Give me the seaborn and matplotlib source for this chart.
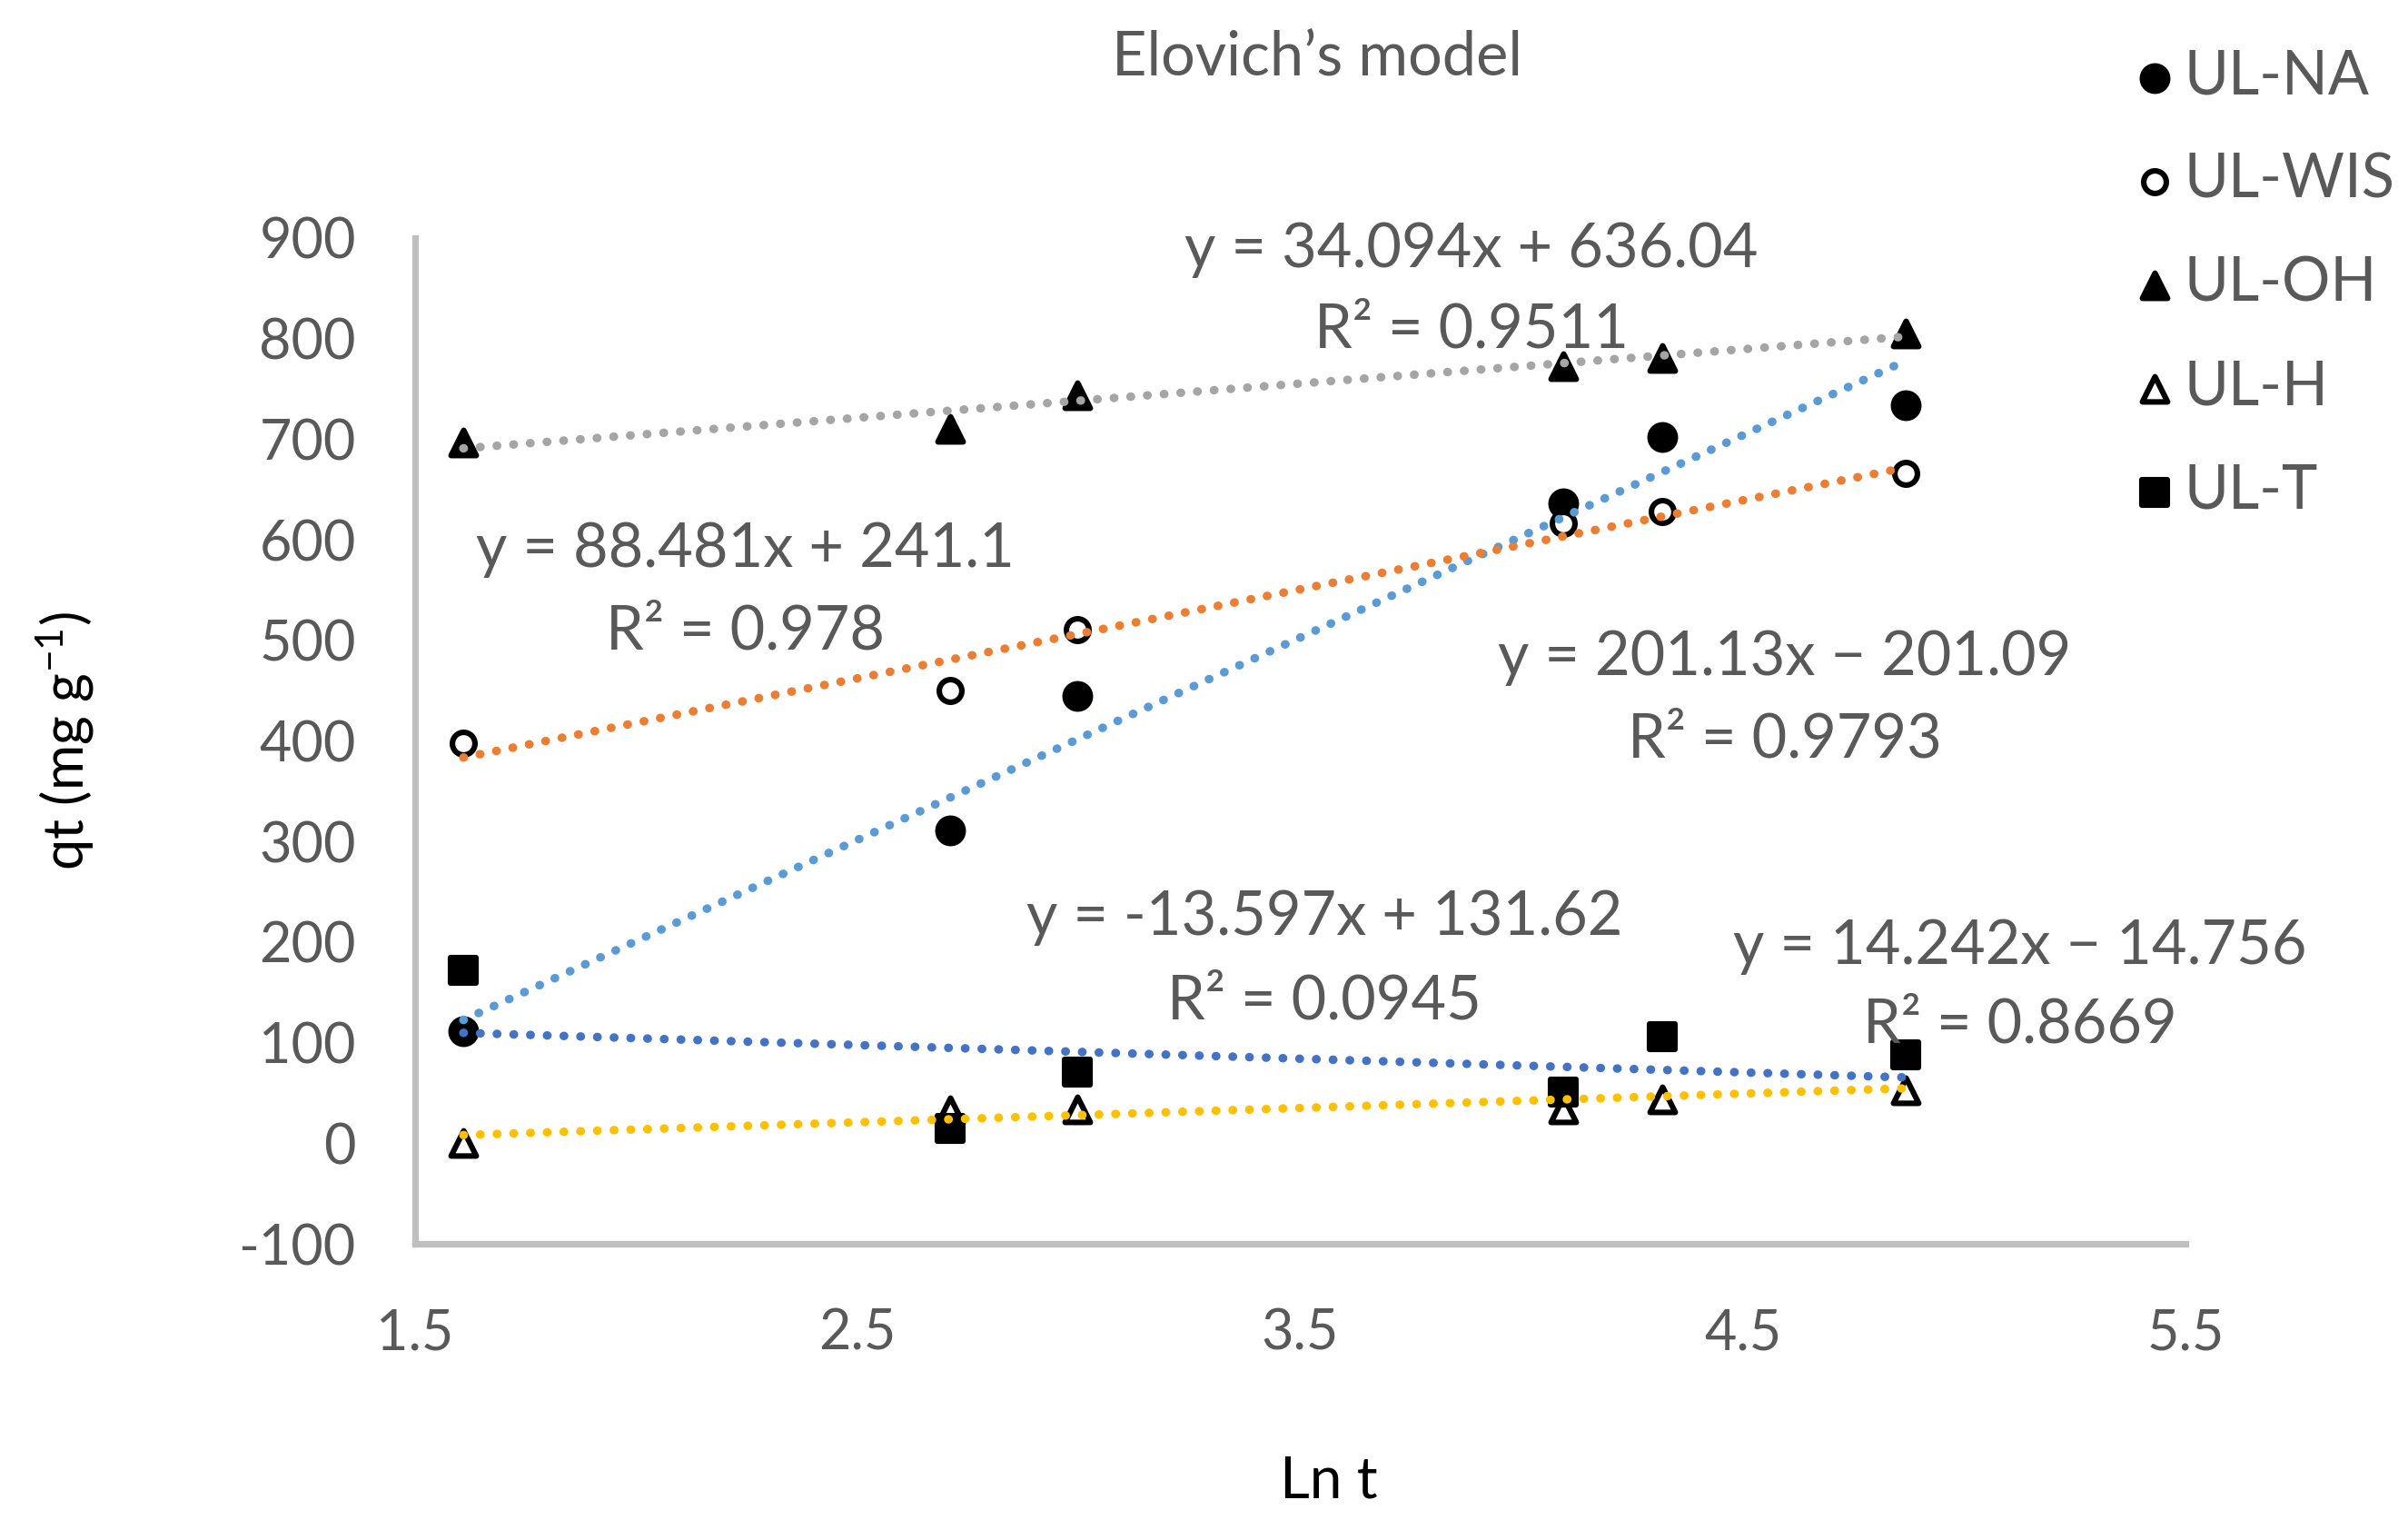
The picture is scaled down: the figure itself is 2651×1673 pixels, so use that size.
import numpy as np
import pandas as pd
import matplotlib.pyplot as plt
import seaborn as sns

# data
ln_t = [1.609, 2.708, 2.996, 4.094, 4.317, 4.868]
ul_na = [111, 311, 445, 636, 702, 734]
ul_wis = [398, 450, 511, 616, 628, 666]
ul_oh = [697, 710, 744, 773, 781, 805]
ul_h = [0, 33, 34, 34, 44, 53]
ul_t = [172, 15, 71, 51, 106, 88]

series_names = ['UL-NA', 'UL-WIS', 'UL-OH', 'UL-H', 'UL-T']
series_values = [ul_na, ul_wis, ul_oh, ul_h, ul_t]

# trendline coefficients as printed on the chart
slopes = [201.13, 88.481, 34.094, 14.242, -13.597]
intercepts = [-201.09, 241.1, 636.04, -14.756, 131.62]
r2 = ['0.9793', '0.978', '0.9511', '0.8669', '0.0945']
trend_colors = ['#5B9BD5', '#ED7D31', '#A5A5A5', '#FFC000', '#4472C4']

eq_labels = ['y = 201.13x \u2212 201.09', 'y = 88.481x + 241.1', 'y = 34.094x + 636.04',
             'y = 14.242x \u2212 14.756', 'y = -13.597x + 131.62']
eq_pos = [(4.595, 483, 401), (2.246, 590, 508), (3.887, 888, 808),
          (5.125, 195, 117), (3.554, 224, 141)]

marker_styles = {
    'UL-NA': dict(marker='o', facecolor='black', s=100),
    'UL-WIS': dict(marker='o', facecolor='white', s=80),
    'UL-OH': dict(marker='^', facecolor='black', s=100),
    'UL-H': dict(marker='^', facecolor='white', s=100),
    'UL-T': dict(marker='s', facecolor='black', s=95),
}

sns.set_theme(style='white')
plt.rcParams['font.family'] = ['Lato', 'DejaVu Sans']
plt.rcParams['mathtext.fontset'] = 'custom'
plt.rcParams['mathtext.rm'] = 'Lato'
plt.rcParams['mathtext.default'] = 'regular'
plt.rcParams['axes.unicode_minus'] = False

grey = '#595959'
fig = plt.figure(figsize=(13.255, 8.365), dpi=200)
ax = fig.add_axes([0.1724, 0.1817, 0.7352, 0.6617])

df = pd.DataFrame({'ln_t': ln_t * len(series_names),
                   'qt': sum(series_values, []),
                   'series': np.repeat(series_names, len(ln_t))})

for name in series_names:
    st = marker_styles[name]
    sub = df[df['series'] == name]
    sns.scatterplot(data=sub, x='ln_t', y='qt', marker=st['marker'], s=st['s'],
                    color=st['facecolor'], edgecolor='black', linewidth=2.2,
                    label=name, ax=ax, zorder=3)

x_line = [min(ln_t), max(ln_t)]
for m, b, c in zip(slopes, intercepts, trend_colors):
    y_line = [m * x + b for x in x_line]
    sns.lineplot(x=x_line, y=y_line, color=c, lw=3.4, ax=ax, zorder=4,
                 linestyle=(0, (0.05, 1.9)), dash_capstyle='round')

for lab, (x, y1, y2), rr in zip(eq_labels, eq_pos, r2):
    ax.text(x, y1, lab, ha='center', va='center', fontsize=24, color=grey, zorder=5)
    ax.text(x, y2, 'R\u00b2 = ' + rr, ha='center', va='center', fontsize=24, color=grey, zorder=5)

ax.set_xlim(1.5, 5.5)
ax.set_ylim(-100, 900)
ax.set_xticks([1.5, 2.5, 3.5, 4.5, 5.5])
ax.set_yticks(range(-100, 901, 100))
ax.set_xticklabels(['1.5', '2.5', '3.5', '4.5', '5.5'])

for side in ['top', 'right']:
    ax.spines[side].set_visible(False)
for side in ['left', 'bottom']:
    ax.spines[side].set_color('#BFBFBF')
    ax.spines[side].set_linewidth(2.6)
ax.tick_params(axis='both', direction='inout', length=13, width=2.6, color='#BFBFBF',
               labelsize=22, labelcolor=grey)
ax.tick_params(axis='x', pad=19)
ax.tick_params(axis='y', pad=17)
ax.set_xlabel('Ln t', fontsize=23, color='black')
ax.set_ylabel('qt (mg g$^{-1}$)', fontsize=22, color='black')
ax.xaxis.set_label_coords(0.516, -0.21)
ax.yaxis.set_label_coords(-0.18, 0.5)

fig.text(0.547, 0.962, 'Elovich\u2019s model', ha='center', va='center', fontsize=24, color=grey)

leg = ax.legend(loc='upper left', bbox_to_anchor=(0.882, 0.968), bbox_transform=fig.transFigure,
                frameon=False, fontsize=24, handletextpad=0.0, labelspacing=0.78,
                handlelength=1.0, borderaxespad=0, borderpad=0)
for t in leg.get_texts():
    t.set_color(grey)

fig.savefig('out.png', dpi=200)
